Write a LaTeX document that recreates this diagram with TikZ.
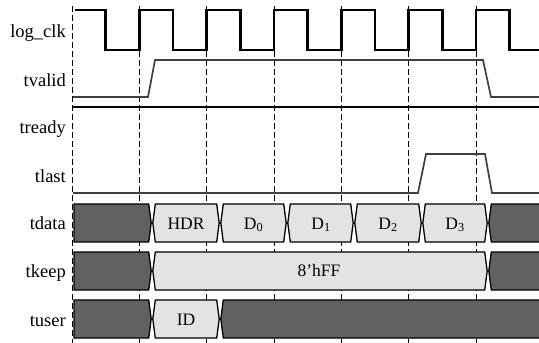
\documentclass[tikz,border=0pt]{standalone}
\usepackage{fontspec}
\setmainfont{Liberation Serif}
\newcommand\busseg[5]{%
  \pgfmathsetmacro\ymid{(#3+#4)/2}%
  \draw[#5] (#1+2.5,#3) -- (#2-2.5,#3) -- (#2,\ymid) -- (#2-2.5,#4) -- (#1+2.5,#4) -- (#1,\ymid) -- cycle;}
\newcommand\busstart[5]{%
  \pgfmathsetmacro\ymid{(#3+#4)/2}%
  \draw[#5] (#1,#3) -- (#2-2.5,#3) -- (#2,\ymid) -- (#2-2.5,#4) -- (#1,#4) -- cycle;}
\begin{document}
\begin{tikzpicture}[x=1pt,y=-1pt,
  lbl/.style={anchor=base east,inner sep=0pt,font=\fontsize{18.5}{21}\selectfont},
  btxt/.style={anchor=base,inner sep=0pt,font=\fontsize{17.5}{20}\selectfont},
  grid/.style={black,line width=0.9pt,dash pattern=on 6pt off 3pt},
  clk/.style={black,line width=2.4pt,line join=miter},
  sig/.style={black!75,line width=1.7pt},
  dark/.style={fill=black!62,draw=black,line width=1.3pt},
  light/.style={fill=black!11,draw=black,line width=1.3pt}]
\useasboundingbox (0,0) rectangle (539,343);
\clip (0,0) rectangle (539,343);
% grid lines
\foreach \k in {0,...,6} {
  \draw[grid] ({72+\k*67.333},6) -- ({72+\k*67.333},343);
}
% labels
\node[lbl] (lclk) at (66,37) {log\_clk};
\node[lbl] (lvalid) at (66,86) {tvalid};
\node[lbl] (lready) at (66,133) {tready};
\node[lbl] (llast) at (66,182) {tlast};
\node[lbl] (ldata) at (66,229) {tdata};
\node[lbl] (lkeep) at (66,277) {tkeep};
\node[lbl] (luser) at (66,326) {tuser};
% clock
\draw[clk] (75,10)
  \foreach \k in {0,...,6} {
    -- ({72+\k*67.333+33.667},10) -- ({72+\k*67.333+33.667},50)
    -- ({72+(\k+1)*67.333},50) -- ({72+(\k+1)*67.333},10)
  } -- (545,10);
% tvalid
\draw[sig] (73,97) -- (148,97) -- (155,60) -- (483,60) -- (491,97) -- (539,97);
% tready
\draw[black,line width=2pt] (73,107) -- (539,107);
% tlast
\draw[sig] (73,193) -- (418,193) -- (426,154) -- (485,154) -- (492,193) -- (539,193);
% tdata
\busstart{74}{151.2}{204}{242}{dark}
\busseg{152.8}{219.2}{204}{242}{light}
\busseg{220.8}{286.2}{204}{242}{light}
\busseg{287.8}{353.2}{204}{242}{light}
\busseg{354.8}{421.2}{204}{242}{light}
\busseg{422.8}{487.2}{204}{242}{light}
\busseg{488.8}{560}{204}{242}{dark}
\node[btxt] (hdr) at (186,229) {HDR};
\node[btxt] (d0) at (253.5,229) {D\textsubscript{0}};
\node[btxt] (d1) at (321,229) {D\textsubscript{1}};
\node[btxt] (d2) at (388,229) {D\textsubscript{2}};
\node[btxt] (d3) at (455,229) {D\textsubscript{3}};
% tkeep
\busstart{74}{151.2}{252}{290}{dark}
\busseg{152.8}{487.2}{252}{290}{light}
\busseg{488.8}{560}{252}{290}{dark}
\node[btxt] (keep) at (319,276) {8'hFF};
% tuser
\busstart{74}{151.2}{300}{338}{dark}
\busseg{152.8}{219.2}{300}{338}{light}
\busseg{220.8}{560}{300}{338}{dark}
\node[btxt] (id) at (186,325) {ID};
\end{tikzpicture}
\end{document}
